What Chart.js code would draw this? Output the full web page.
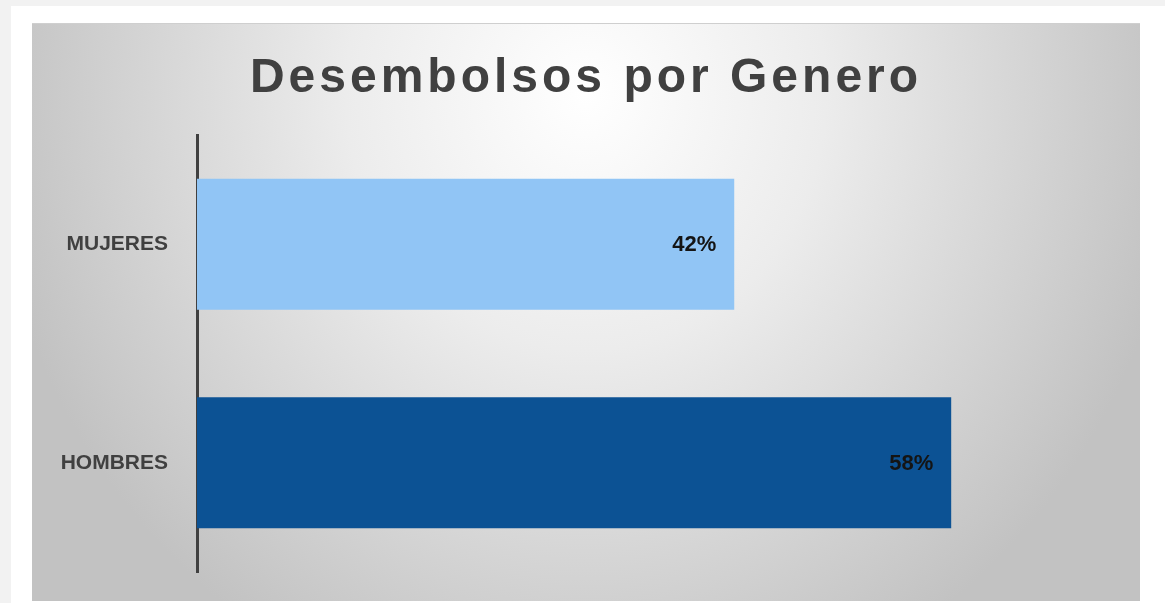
<!DOCTYPE html>
<html>
<head>
<meta charset="utf-8">
<script src="https://cdn.jsdelivr.net/npm/chart.js@4.4.1/dist/chart.umd.min.js"></script>
<style>
  html, body { margin: 0; padding: 0; }
  body { width: 1165px; height: 603px; background: #f2f2f2; position: relative; overflow: hidden; }
  #frame { position: absolute; left: 11px; top: 6px; right: 0; bottom: 0; background: #ffffff; }
  #panel {
    position: absolute; left: 32px; top: 24px; width: 1108px; height: 577px;
    background: radial-gradient(ellipse 600px 640px at 554px 70px, #ffffff 0%, #ececec 40%, #c2c2c2 100%);
    box-shadow: 0 -1px 0 #cfcfcf;
  }
  canvas { position: absolute; left: 0; top: 0; }
</style>
</head>
<body>
<div id="frame"></div>
<div id="panel"><canvas id="c" width="1108" height="577"></canvas></div>
<script>
const TITLE = 'Desembolsos por Genero';
const categories = ['MUJERES', 'HOMBRES'];
const values = [41.6, 58.4];
const barColors = ['#91c5f5', '#0c5294'];
const axisMax = 70;

const titlePlugin = {
  id: 'customTitle',
  afterDraw(chart) {
    const ctx = chart.ctx;
    ctx.save();
    ctx.font = 'bold 48px "Liberation Sans", Arial, sans-serif';
    ctx.letterSpacing = '4px';
    ctx.fillStyle = '#404040';
    ctx.textAlign = 'center';
    ctx.textBaseline = 'alphabetic';
    ctx.fillText(TITLE, 554, 68);
    ctx.restore();
  }
};

const valueLabels = {
  id: 'valueLabels',
  afterDatasetsDraw(chart) {
    const ctx = chart.ctx;
    const meta = chart.getDatasetMeta(0);
    ctx.save();
    ctx.font = 'bold 22px "Liberation Sans", Arial, sans-serif';
    ctx.fillStyle = '#141414';
    ctx.textAlign = 'right';
    ctx.textBaseline = 'middle';
    meta.data.forEach((bar, i) => {
      ctx.fillText(Math.round(values[i]) + '%', bar.x - 18, bar.y + 1);
    });
    ctx.restore();
  }
};

new Chart(document.getElementById('c'), {
  type: 'bar',
  data: {
    labels: categories,
    datasets: [{
      data: values,
      backgroundColor: barColors,
      borderWidth: 0,
      categoryPercentage: 1,
      barPercentage: 0.6
    }]
  },
  options: {
    indexAxis: 'y',
    responsive: false,
    animation: false,
    devicePixelRatio: 1,
    layout: { padding: { top: 111, left: 0, right: 39, bottom: 29 } },
    plugins: { legend: { display: false }, tooltip: { enabled: false }, title: { display: false } },
    scales: {
      x: { display: false, min: 0, max: axisMax },
      y: {
        grid: { display: false, drawTicks: false },
        border: { display: true, color: '#404040', width: 3 },
        ticks: {
          padding: 29,
          color: '#404040',
          font: { family: '"Liberation Sans", Arial, sans-serif', weight: 'bold', size: 21 }
        },
        afterFit(scale) { scale.width = 165; scale.paddingTop = 0; scale.paddingBottom = 0; }
      }
    }
  },
  plugins: [titlePlugin, valueLabels]
});
</script>
</body>
</html>
